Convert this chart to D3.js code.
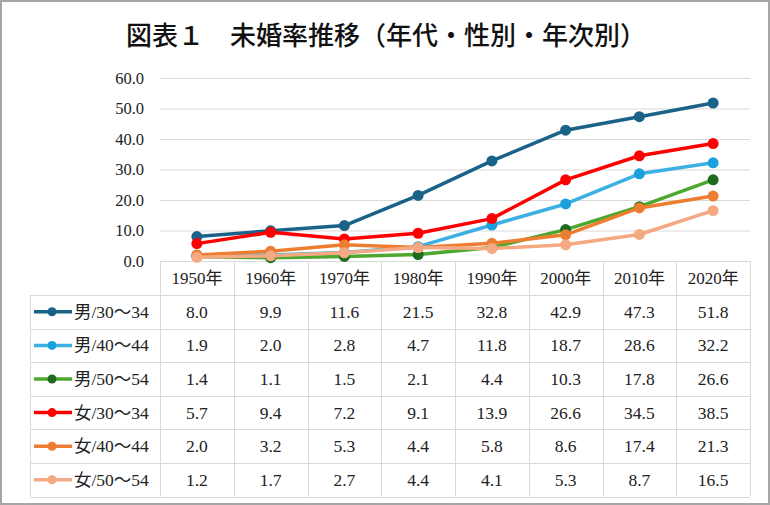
<!DOCTYPE html>
<html lang="ja">
<head>
<meta charset="utf-8">
<script src="https://cdn.jsdelivr.net/npm/d3@7/dist/d3.min.js"></script>
<style>
	body { margin: 0; background: #fff; }
	svg { font-family: "Liberation Serif", "Noto Sans CJK JP", serif; }
	.grid line { stroke: #d9d9d9; stroke-width: 1; }
	.tbl line { stroke: #d9d9d9; stroke-width: 1; }
</style>
</head>
<body>
<svg id="chart" width="770" height="505"></svg>
<script>
	var title = "図表１　未婚率推移（年代・性別・年次別）";
	var years = ["1950年", "1960年", "1970年", "1980年", "1990年", "2000年", "2010年", "2020年"];
	var seriesNames = ["男/30～34", "男/40～44", "男/50～54", "女/30～34", "女/40～44", "女/50～54"];
	var m3034 = [8.0, 9.9, 11.6, 21.5, 32.8, 42.9, 47.3, 51.8];
	var m4044 = [1.9, 2.0, 2.8, 4.7, 11.8, 18.7, 28.6, 32.2];
	var m5054 = [1.4, 1.1, 1.5, 2.1, 4.4, 10.3, 17.8, 26.6];
	var f3034 = [5.7, 9.4, 7.2, 9.1, 13.9, 26.6, 34.5, 38.5];
	var f4044 = [2.0, 3.2, 5.3, 4.4, 5.8, 8.6, 17.4, 21.3];
	var f5054 = [1.2, 1.7, 2.7, 4.4, 4.1, 5.3, 8.7, 16.5];
	var yTicks = [0, 10, 20, 30, 40, 50, 60];

	var lineColors = ["#1b6288", "#3cb0e3", "#4ea72e", "#ff0000", "#ed7d31", "#f4a983"];
	var dotColors = ["#1b6288", "#1aa0dd", "#1e6b1e", "#ff0000", "#ed7d31", "#f4a983"];

	var values = [m3034, m4044, m5054, f3034, f4044, f5054];

	var svg = d3.select("#chart");

	// frame
	svg.append("rect")
		.attr("x", 1).attr("y", 1)
		.attr("width", 768).attr("height", 503)
		.attr("fill", "#fff")
		.attr("stroke", "#a6a6a6")
		.attr("stroke-width", 2);

	svg.append("text")
		.attr("x", 386).attr("y", 45)
		.attr("text-anchor", "middle")
		.style("font-family", "'Noto Sans CJK JP', sans-serif")
		.style("font-size", "26px")
		.style("font-weight", "500")
		.attr("fill", "#111")
		.text(title);

	var left = 160, right = 750;
	var x = d3.scaleBand().domain(years).range([left, right]);
	var y = d3.scaleLinear().domain([0, 60]).range([261, 78]);

	// gridlines
	svg.append("g").attr("class", "grid")
		.selectAll("line")
		.data(yTicks.slice(1))
		.enter().append("line")
		.attr("x1", left).attr("x2", right)
		.attr("y1", function(d) { return y(d) + 0.5 })
		.attr("y2", function(d) { return y(d) + 0.5 });

	// y axis labels
	svg.append("g")
		.selectAll("text")
		.data(yTicks)
		.enter().append("text")
		.attr("x", 144)
		.attr("y", function(d) { return y(d) + 5.5 })
		.attr("text-anchor", "end")
		.style("font-size", "16.5px")
		.attr("fill", "#222")
		.text(function(d) { return d.toFixed(1) });

	// table
	var headTop = 261, rowH = 33.6;
	var rowsTop = headTop + 34;
	var tableBottom = rowsTop + rowH * 6;
	var labelLeft = 30;
	var tbl = svg.append("g").attr("class", "tbl");

	// horizontal lines
	tbl.append("line")
		.attr("x1", left).attr("x2", right)
		.attr("y1", headTop + 0.5).attr("y2", headTop + 0.5);
	d3.range(7).forEach(function(i) {
		var yy = Math.round(rowsTop + rowH * i) + 0.5;
		tbl.append("line")
			.attr("x1", labelLeft).attr("x2", right)
			.attr("y1", yy).attr("y2", yy);
	});
	// vertical lines
	tbl.append("line")
		.attr("x1", labelLeft + 0.5).attr("x2", labelLeft + 0.5)
		.attr("y1", rowsTop).attr("y2", tableBottom);
	d3.range(years.length + 1).forEach(function(i) {
		var xx = Math.round(left + x.bandwidth() * i) + 0.5;
		tbl.append("line")
			.attr("x1", xx).attr("x2", xx)
			.attr("y1", headTop).attr("y2", tableBottom);
	});

	// header
	svg.append("g")
		.selectAll("text")
		.data(years)
		.enter().append("text")
		.attr("x", function(d) { return x(d) + x.bandwidth() / 2 })
		.attr("y", headTop + 23)
		.attr("text-anchor", "middle")
		.style("font-size", "17px")
		.attr("fill", "#222")
		.text(function(d) { return d });

	// rows
	values.forEach(function(vals, i) {
		var cy = rowsTop + rowH * i + rowH / 2;
		var g = svg.append("g");
		g.append("line")
			.attr("x1", 34).attr("x2", 72)
			.attr("y1", cy).attr("y2", cy)
			.attr("stroke", lineColors[i])
			.attr("stroke-width", 3.5);
		g.append("circle")
			.attr("cx", 52).attr("cy", cy).attr("r", 4.5)
			.attr("fill", dotColors[i]);
		g.append("text")
			.attr("x", 74).attr("y", cy + 6)
			.style("font-size", "17.5px")
			.attr("fill", "#222")
			.text(seriesNames[i]);
		g.selectAll("text.v")
			.data(vals)
			.enter().append("text")
			.attr("class", "v")
			.attr("x", function(d, j) { return x(years[j]) + x.bandwidth() / 2 })
			.attr("y", cy + 6)
			.attr("text-anchor", "middle")
			.style("font-size", "17.5px")
			.attr("fill", "#222")
			.text(function(d) { return d.toFixed(1) });
	});

	// lines
	var line = d3.line()
		.x(function(d, j) { return x(years[j]) + x.bandwidth() / 2 })
		.y(function(d) { return y(d) });

	values.forEach(function(vals, i) {
		var g = svg.append("g");
		g.append("path")
			.datum(vals)
			.attr("d", line)
			.attr("fill", "none")
			.attr("stroke", lineColors[i])
			.attr("stroke-width", 3.5)
			.attr("stroke-linejoin", "round");
		g.selectAll("circle")
			.data(vals)
			.enter().append("circle")
			.attr("cx", function(d, j) { return x(years[j]) + x.bandwidth() / 2 })
			.attr("cy", function(d) { return y(d) })
			.attr("r", 5.5)
			.attr("fill", dotColors[i]);
	});
</script>
</body>
</html>
